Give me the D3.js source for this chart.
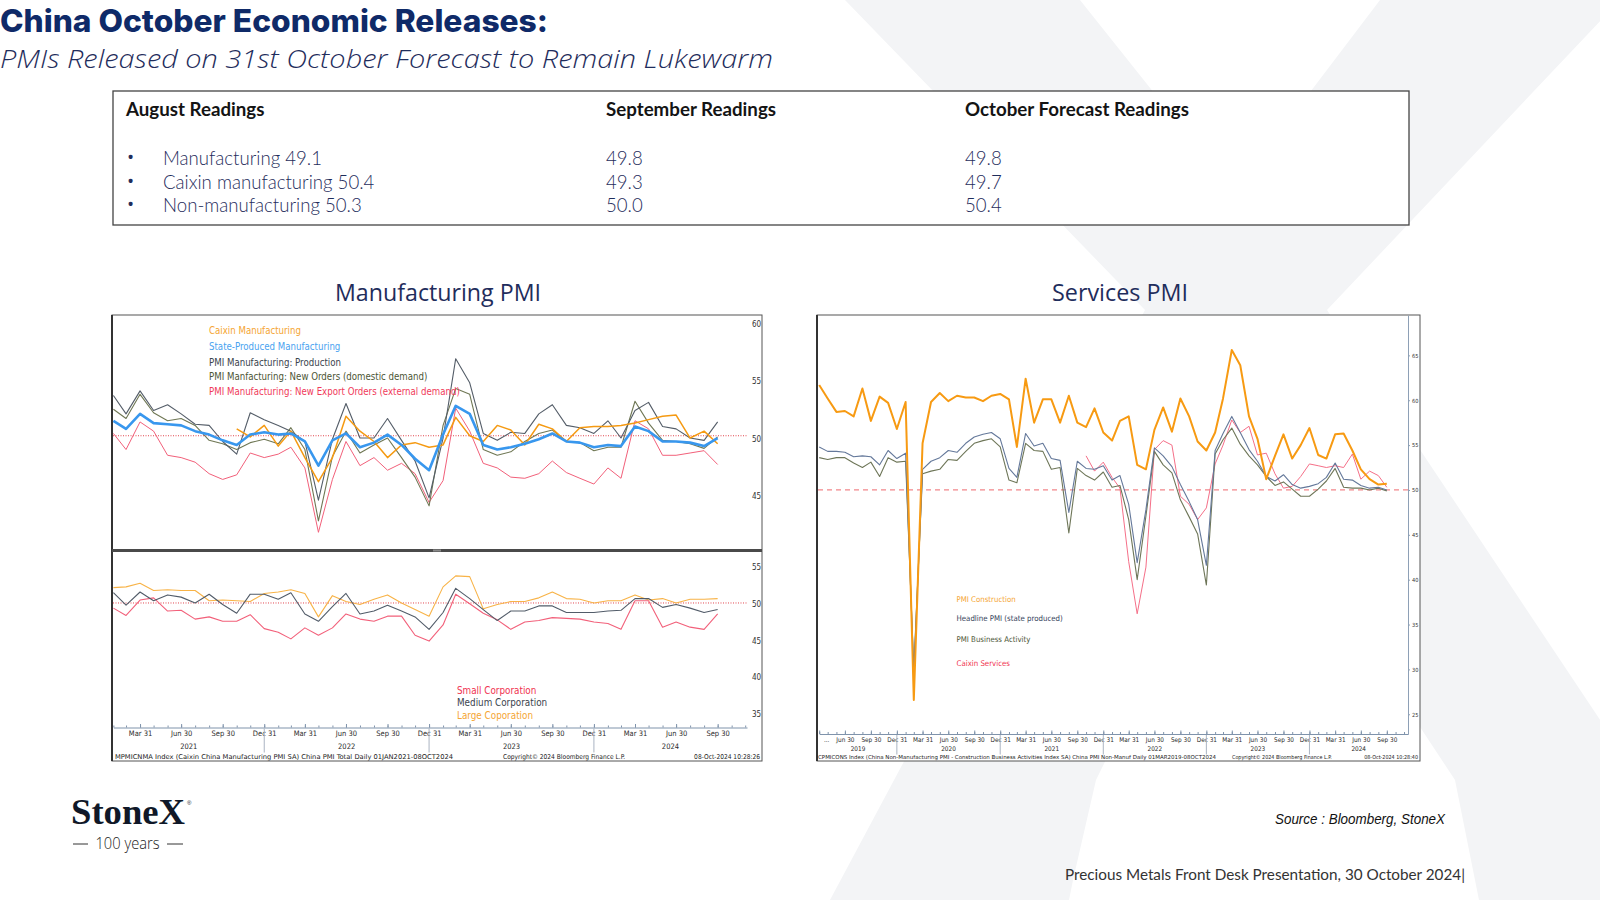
<!DOCTYPE html>
<html>
<head>
<meta charset="utf-8">
<script src="https://cdn.jsdelivr.net/npm/d3@7"></script>
<style>
  html, body { margin: 0; padding: 0; background: #fff; overflow: hidden; }
</style>
</head>
<body>
<svg id="slide" width="1600" height="900"></svg>
<script>
// ---------------- data ----------------
const tableHeads = ["August Readings", "September Readings", "October Forecast Readings"];
const augustRows = ["Manufacturing 49.1", "Caixin manufacturing 50.4", "Non-manufacturing 50.3"];
const septemberRows = ["49.8", "49.3", "50.0"];
const octoberRows = ["49.8", "49.7", "50.4"];

// Manufacturing PMI panel, monthly Jan 2021 - Sep 2024
const mfgStart = new Date(2021, 0, 1);
const mfgCaixin = Array(9).fill(null).concat([
  50.6, 49.9, 50.9,
  49.1, 50.4, 48.1, 46.0, 48.1, 51.7, 50.4, 49.5, 48.1, 49.2, 49.4, 49.0,
  49.2, 51.6, 50.0, 49.5, 50.9, 50.5, 49.2, 51.0, 50.6, 49.5, 50.7, 50.8,
  50.8, 50.9, 51.1, 51.4, 51.7, 51.8, 49.8, 50.4, 49.3]);
const mfgState = [
  51.3, 50.6, 51.9, 51.1, 51.0, 50.9, 50.4, 50.1, 49.6, 49.2, 50.1, 50.3,
  50.1, 50.2, 49.5, 47.4, 49.6, 50.2, 49.0, 49.4, 50.1, 49.2, 48.0, 47.0,
  50.1, 52.6, 51.9, 49.2, 48.8, 49.0, 49.3, 49.7, 50.2, 49.5, 49.4, 49.0,
  49.2, 49.1, 50.8, 50.4, 49.5, 49.5, 49.4, 49.1, 49.8];
const mfgProduction = [
  53.5, 51.9, 53.9, 52.2, 52.7, 51.9, 51.0, 50.9, 49.5, 48.4, 52.0, 51.4,
  50.9, 50.4, 49.5, 44.4, 49.7, 52.8, 49.8, 49.8, 51.5, 49.6, 47.8, 44.6,
  49.8, 56.7, 54.6, 50.2, 49.6, 50.3, 50.2, 51.9, 52.7, 50.9, 50.7, 50.2,
  51.3, 49.8, 52.2, 52.9, 50.8, 50.6, 49.8, 49.6, 51.2];
const mfgNewOrders = [
  52.3, 51.5, 53.6, 52.0, 51.3, 51.5, 50.9, 49.6, 49.3, 48.8, 49.4, 49.7,
  49.3, 50.7, 48.8, 42.6, 48.2, 50.4, 48.5, 49.2, 49.8, 48.1, 46.4, 43.9,
  50.9, 54.1, 53.6, 48.8, 48.3, 48.6, 49.5, 50.2, 50.5, 49.5, 49.4, 48.7,
  49.0, 49.0, 53.0, 51.1, 49.6, 49.5, 49.3, 48.9, 49.9];
const mfgExport = [
  50.2, 48.8, 51.2, 50.4, 48.3, 48.1, 47.7, 46.7, 46.2, 46.6, 48.5, 48.1,
  48.4, 49.0, 47.2, 41.6, 46.2, 49.5, 47.4, 48.1, 47.0, 47.6, 46.7, 44.2,
  46.1, 52.4, 50.4, 47.6, 47.2, 46.4, 46.3, 46.7, 47.8, 46.8, 46.3, 45.8,
  47.2, 46.3, 51.3, 50.6, 48.3, 48.3, 48.5, 48.7, 47.5];
const mfgSmall = [
  49.3, 48.3, 50.4, 50.7, 48.9, 49.0, 47.8, 48.1, 47.5, 47.5, 48.4, 46.5,
  46.0, 45.1, 46.6, 45.6, 46.6, 48.5, 47.8, 47.5, 48.2, 48.2, 45.6, 44.8,
  47.0, 51.2, 49.9, 48.6, 47.7, 46.4, 47.4, 47.6, 48.0, 47.9, 47.8, 47.4,
  47.2, 46.4, 50.3, 50.3, 46.7, 47.4, 46.7, 46.4, 48.5];
const mfgMedium = [
  51.4, 49.7, 51.5, 50.3, 51.1, 50.8, 50.0, 51.2, 49.8, 48.6, 51.2, 51.2,
  50.5, 51.4, 48.5, 47.5, 49.5, 51.3, 48.5, 48.9, 49.7, 48.9, 48.1, 46.4,
  48.7, 52.0, 50.6, 49.1, 47.6, 48.9, 48.9, 49.6, 49.6, 48.7, 48.7, 48.7,
  48.9, 49.0, 50.6, 50.6, 49.4, 49.8, 49.3, 48.7, 49.1];
const mfgLarge = [
  52.1, 52.2, 52.7, 51.7, 51.8, 51.7, 51.7, 50.3, 50.4, 50.3, 50.2, 51.3,
  51.5, 51.8, 51.3, 48.1, 51.0, 50.2, 49.8, 50.5, 51.1, 50.0, 49.1, 48.2,
  52.2, 53.7, 53.6, 49.2, 49.8, 50.2, 50.2, 50.7, 51.5, 50.6, 50.5, 50.0,
  50.3, 50.3, 51.1, 50.4, 50.6, 50.0, 50.5, 50.5, 50.6];

// Services PMI panel, monthly Mar 2019 - Sep 2024
const svcStart = new Date(2019, 2, 1);
const svcConstruction = [
  61.7, 60.2, 58.7, 58.8, 58.2, 61.3, 57.7, 60.4, 59.7, 56.8,
  59.8, 26.6, 55.2, 59.8, 60.8, 59.9, 60.5, 60.3, 60.3, 59.9, 60.5, 60.7,
  60.1, 54.8, 62.4, 57.5, 60.1, 60.1, 57.5, 60.5, 57.5, 57.0, 59.1, 56.4,
  55.5, 57.7, 58.2, 52.8, 52.3, 56.7, 59.2, 56.5, 60.2, 58.2, 55.4, 54.4,
  56.4, 60.2, 65.6, 63.9, 58.2, 55.7, 51.2, 53.8, 56.2, 53.5, 55.0, 56.9,
  53.9, 53.5, 56.2, 56.3, 54.4, 52.3, 51.2, 50.6, 50.7];
const svcHeadline = [
  54.8, 54.3, 54.3, 54.2, 53.7, 53.8, 53.7, 52.8, 54.4, 53.5,
  54.1, 29.6, 52.3, 53.2, 53.6, 54.4, 54.2, 55.2, 55.9, 56.2, 56.4, 55.7,
  52.4, 51.4, 56.3, 54.9, 55.2, 53.5, 53.3, 47.5, 53.2, 52.4, 52.3, 52.7,
  51.1, 51.6, 48.4, 41.9, 47.8, 54.7, 53.8, 52.6, 50.6, 48.7, 46.7, 41.6,
  54.4, 56.3, 58.2, 56.4, 54.5, 53.2, 51.5, 51.0, 51.7, 50.6, 50.2, 50.4,
  50.7, 51.4, 53.0, 51.2, 51.1, 50.5, 50.2, 50.3, 50.0];
const svcBusiness = [
  53.6, 53.4, 53.6, 53.6, 53.0, 52.5, 53.1, 51.5, 53.6, 53.1,
  53.2, 30.1, 51.8, 52.1, 52.3, 53.4, 53.3, 54.3, 55.2, 55.5, 55.7, 54.8,
  51.1, 50.8, 55.2, 54.4, 54.3, 52.3, 52.5, 45.2, 52.4, 51.6, 51.1, 52.0,
  50.3, 50.5, 46.7, 40.0, 47.1, 54.3, 52.8, 51.9, 48.9, 47.0, 45.1, 39.4,
  54.0, 55.6, 56.9, 55.1, 53.8, 52.8, 51.5, 50.5, 50.9, 50.1, 49.3, 49.3,
  50.1, 51.0, 52.4, 50.3, 50.2, 50.2, 50.0, 50.2, 49.9];
const svcCaixin = Array(31).fill(null).concat([
  53.8, 52.1, 53.1,
  51.4, 50.2, 42.0, 36.2, 41.4, 54.5, 55.5, 55.0, 49.3, 48.4, 46.7, 48.0,
  52.9, 55.0, 57.8, 56.4, 57.1, 53.9, 54.1, 51.8, 50.2, 50.4, 51.5, 52.9,
  52.7, 52.5, 52.7, 52.5, 54.0, 51.2, 52.1, 51.6, 50.3]);

const mfgTopTicks = [60, 55, 50, 45];
const mfgBottomTicks = [55, 50, 45, 40, 35];
const svcTicks = [65, 60, 55, 50, 45, 40, 35, 30, 25];

// ---------------- helpers ----------------
const svg = d3.select("#slide");
const bbFont = "'DejaVu Sans Condensed','Liberation Sans Narrow','DejaVu Sans',sans-serif";
const navy = "#1f2d5c";

function monthEnd(start, i) {
  return d3.timeDay.offset(d3.timeMonth.offset(start, i + 1), -1);
}

function condense(sel, k) {
  sel.each(function () {
    const w = this.getComputedTextLength();
    d3.select(this).attr("textLength", w * k).attr("lengthAdjust", "spacingAndGlyphs");
  });
}

function drawSeries(g, x, y, start, values, color, width) {
  const pts = values.map((v, i) => ({ d: monthEnd(start, i), v: v }));
  g.append("path")
    .datum(pts)
    .attr("fill", "none")
    .attr("stroke", color)
    .attr("stroke-width", width)
    .attr("stroke-linejoin", "round")
    .attr("d", d3.line().defined(p => p.v != null).x(p => x(p.d)).y(p => y(p.v)));
}

function timeAxis(x, axisY, fs, yearGap, firstLabel) {
  const [d0, d1] = x.domain();
  const months = d3.timeMonth.range(d3.timeMonth.ceil(d0), d1)
    .map(m => d3.timeDay.offset(m, -1))
    .filter(d => d >= d0);
  const quarters = months.filter(d => d.getMonth() % 3 === 2);

  const g = svg.append("g").attr("transform", `translate(0,${axisY})`);
  g.append("g")
    .call(d3.axisBottom(x).tickValues(months).tickSizeInner(-2).tickSizeOuter(0).tickFormat(""))
    .call(a => a.select(".domain").attr("stroke", "#7f93ab"))
    .call(a => a.selectAll(".tick line").attr("stroke", "#7f93ab"));

  const fmt = d3.timeFormat("%b %d");
  g.append("g")
    .call(d3.axisBottom(x).tickValues(quarters).tickSizeInner(-3.5).tickSizeOuter(0)
      .tickPadding(3.2).tickFormat((d, i) => (i === 0 && firstLabel) ? firstLabel : fmt(d)))
    .call(a => a.select(".domain").remove())
    .call(a => a.selectAll(".tick line").attr("stroke", "#7f93ab"))
    .call(a => a.selectAll(".tick text")
      .attr("fill", "#2b2b2b")
      .attr("font-family", bbFont)
      .attr("font-size", fs)
      .attr("dx", (d, i) => (i === 0 && firstLabel) ? 7 : 0));

  // year separators and labels
  months.filter(d => d.getMonth() === 11).forEach(d => {
    g.append("line")
      .attr("x1", x(d)).attr("x2", x(d))
      .attr("y1", 1).attr("y2", yearGap + 4)
      .attr("stroke", "#aab4c2").attr("stroke-width", 1);
  });
  const [r0, r1] = x.range();
  for (let yr = d0.getFullYear(); yr <= d1.getFullYear(); yr++) {
    const a = Math.max(r0, x(new Date(yr - 1, 11, 31)));
    const b = Math.min(r1, x(new Date(yr, 11, 31)));
    if (b - a < 20) continue;
    g.append("text")
      .attr("x", (a + b) / 2).attr("y", yearGap)
      .attr("text-anchor", "middle")
      .attr("font-family", bbFont).attr("font-size", fs)
      .attr("fill", "#2b2b2b")
      .text(yr);
  }
}

function legend(x, entries, fs) {
  entries.forEach(e => {
    svg.append("text")
      .attr("x", x).attr("y", e.y)
      .attr("dominant-baseline", "central")
      .attr("font-family", bbFont).attr("font-size", fs)
      .attr("fill", e.color)
      .text(e.label);
  });
}

function yLabels(scale, ticks, xPos, fs, withLine, dy) {
  const g = svg.append("g").attr("transform", `translate(${xPos},0)`);
  g.call(d3.axisRight(scale).tickValues(ticks).tickSizeInner(withLine ? 2 : 0).tickSizeOuter(0).tickPadding(withLine ? 2 : 3))
    .call(a => withLine ? a.select(".domain").attr("stroke", "#8ea0b6") : a.select(".domain").remove())
    .call(a => a.selectAll(".tick line").attr("stroke", "#8ea0b6"))
    .call(a => a.selectAll(".tick text")
      .attr("fill", "#333")
      .attr("font-family", bbFont)
      .attr("font-size", fs)
      .attr("y", dy || 0));
}

// ---------------- watermark ----------------
const wm = "#f3f4f6";
svg.append("path").attr("fill", wm)
  .attr("d", "M845,0 L1080,0 L1327,310 L1720,900 L1479,900 L1475,880 L1455,780 L1145,310 Z");
svg.append("path").attr("fill", wm)
  .attr("d", "M1380,0 L1620,0 L1327,310 L1096,780 L1073,880 L1069,900 L830,900 L1145,310 Z");

// ---------------- titles ----------------
svg.append("text")
  .attr("x", 0).attr("y", 31.5)
  .attr("font-family", "Inter, 'Noto Sans', sans-serif")
  .attr("font-weight", 800).attr("font-size", 31)
  .attr("fill", "#0f2a68")
  .attr("textLength", 548).attr("lengthAdjust", "spacingAndGlyphs")
  .text("China October Economic Releases:");

svg.append("text")
  .attr("x", 0).attr("y", 67.5)
  .attr("font-family", "'Open Sans', sans-serif")
  .attr("font-style", "italic").attr("font-weight", 300).attr("font-size", 26.5)
  .attr("fill", navy)
  .attr("textLength", 773).attr("lengthAdjust", "spacingAndGlyphs")
  .text("PMIs Released on 31st October Forecast to Remain Lukewarm");

// ---------------- readings table ----------------
svg.append("rect")
  .attr("x", 113).attr("y", 91).attr("width", 1296).attr("height", 134)
  .attr("fill", "#fff").attr("stroke", "#444").attr("stroke-width", 1.3);

const colX = [126, 606, 965];
const rowY = [165, 188.5, 212];
svg.selectAll("text.head")
  .data(tableHeads).join("text")
  .attr("class", "head")
  .attr("x", (d, i) => colX[i]).attr("y", 116)
  .attr("font-family", "Lato, 'Open Sans', sans-serif")
  .attr("font-weight", 700).attr("font-size", 19.5)
  .attr("fill", "#141414")
  .text(d => d)
  .call(condense, 0.96);

augustRows.forEach((t, i) => {
  svg.append("text").attr("x", 127).attr("y", rowY[i] - 1)
    .attr("font-family", "'Open Sans', sans-serif").attr("font-size", 19)
    .attr("fill", navy).text("\u2022");
});
const bodyFont = "Lato, 'Open Sans', sans-serif";
[[augustRows, 163], [septemberRows, colX[1]], [octoberRows, colX[2]]].forEach(([rows, x]) => {
  svg.selectAll(null).data(rows).join("text")
    .attr("x", x).attr("y", (d, i) => rowY[i])
    .attr("font-family", bodyFont).attr("font-weight", 300).attr("font-size", 19.5)
    .attr("fill", navy)
    .text(d => d)
    .call(condense, 0.955);
});

// ---------------- chart titles ----------------
svg.append("text")
  .attr("x", 335).attr("y", 301)
  .attr("font-family", "'Open Sans', sans-serif").attr("font-size", 23)
  .attr("fill", navy)
  .attr("textLength", 206).attr("lengthAdjust", "spacingAndGlyphs")
  .text("Manufacturing PMI");
svg.append("text")
  .attr("x", 1052).attr("y", 301)
  .attr("font-family", "'Open Sans', sans-serif").attr("font-size", 23)
  .attr("fill", navy)
  .attr("textLength", 136).attr("lengthAdjust", "spacingAndGlyphs")
  .text("Services PMI");

// ---------------- manufacturing chart ----------------
svg.append("rect")
  .attr("x", 112).attr("y", 315).attr("width", 650).attr("height", 446)
  .attr("fill", "#fff").attr("stroke", "#555").attr("stroke-width", 1);
svg.append("line").attr("x1", 112).attr("x2", 112).attr("y1", 315).attr("y2", 761)
  .attr("stroke", "#333").attr("stroke-width", 2);

const mX = d3.scaleTime()
  .domain([new Date(2021, 0, 31), new Date(2024, 11, 4)])
  .range([113.4, 747]);
const mTopY = d3.scaleLinear().domain([40.15, 60.5]).range([549, 315]);
const mBotY = d3.scaleLinear().domain([33.0, 56.96]).range([727.5, 552]);

// divider between panels
svg.append("rect").attr("x", 112).attr("y", 549).attr("width", 650).attr("height", 3).attr("fill", "#4a4a4a");
svg.append("rect").attr("x", 433).attr("y", 549.5).attr("width", 8).attr("height", 2).attr("fill", "#8a8a8a");

// 50 reference lines
[[mTopY], [mBotY]].forEach(([s]) => {
  svg.append("line")
    .attr("x1", 113).attr("x2", 747).attr("y1", s(50)).attr("y2", s(50))
    .attr("stroke", "#e2474f").attr("stroke-width", 1).attr("stroke-dasharray", "1,1.5");
});

const mTop = svg.append("g");
drawSeries(mTop, mX, mTopY, mfgStart, mfgExport, "#f2607a", 1);
drawSeries(mTop, mX, mTopY, mfgStart, mfgNewOrders, "#6f7754", 1.1);
drawSeries(mTop, mX, mTopY, mfgStart, mfgProduction, "#545d68", 1.1);
drawSeries(mTop, mX, mTopY, mfgStart, mfgCaixin, "#f59a12", 1.5);
drawSeries(mTop, mX, mTopY, mfgStart, mfgState, "#3897ee", 2.6);

const mBot = svg.append("g");
drawSeries(mBot, mX, mBotY, mfgStart, mfgLarge, "#f8b347", 1.1);
drawSeries(mBot, mX, mBotY, mfgStart, mfgSmall, "#f2607a", 1.1);
drawSeries(mBot, mX, mBotY, mfgStart, mfgMedium, "#525c69", 1.1);

yLabels(mTopY, mfgTopTicks, 749, 8, false, 3);
yLabels(mBotY, mfgBottomTicks, 749, 8, false, 1);

legend(209, [
  { label: "Caixin Manufacturing", color: "#f5a533", y: 330.6 },
  { label: "State-Produced Manufacturing", color: "#4aa3f0", y: 346 },
  { label: "PMI Manufacturing: Production", color: "#3a434d", y: 362 },
  { label: "PMI Manfacturing: New Orders (domestic demand)", color: "#4c5535", y: 376.5 },
  { label: "PMI Manufacturing: New Export Orders (external demand)", color: "#f03a5a", y: 391 }
], 9.6);
legend(457, [
  { label: "Small Corporation", color: "#f0324f", y: 690 },
  { label: "Medium Corporation", color: "#3a434d", y: 702.5 },
  { label: "Large Coporation", color: "#f5a533", y: 715.5 }
], 9.8);

timeAxis(mX, 727.5, 7.5, 21, null);

svg.append("text").attr("x", 115).attr("y", 758.5)
  .attr("font-family", bbFont).attr("font-size", 6.6).attr("fill", "#222")
  .attr("textLength", 338).attr("lengthAdjust", "spacingAndGlyphs")
  .text("MPMICNMA Index (Caixin China Manufacturing PMI SA) China PMI Total  Daily 01JAN2021-08OCT2024");
svg.append("text").attr("x", 503).attr("y", 758.5)
  .attr("font-family", bbFont).attr("font-size", 6.6).attr("fill", "#222")
  .text("Copyright\u00a9 2024 Bloomberg Finance L.P.");
svg.append("text").attr("x", 760).attr("y", 758.5).attr("text-anchor", "end")
  .attr("font-family", bbFont).attr("font-size", 6.6).attr("fill", "#222")
  .text("08-Oct-2024 10:28:26");

// ---------------- services chart ----------------
svg.append("rect")
  .attr("x", 817).attr("y", 315).attr("width", 603).attr("height", 446)
  .attr("fill", "#fff").attr("stroke", "#555").attr("stroke-width", 1);
svg.append("line").attr("x1", 817).attr("x2", 817).attr("y1", 315).attr("y2", 761)
  .attr("stroke", "#333").attr("stroke-width", 2);

const sX = d3.scaleTime()
  .domain([new Date(2019, 2, 31), new Date(2024, 11, 14)])
  .range([819.2, 1408]);
const sY = d3.scaleLinear().domain([22.8, 69.5]).range([734, 315]);

svg.append("line")
  .attr("x1", 818).attr("x2", 1408).attr("y1", sY(50)).attr("y2", sY(50))
  .attr("stroke", "#f2868a").attr("stroke-width", 1.3).attr("stroke-dasharray", "5,4");

const sG = svg.append("g");
drawSeries(sG, sX, sY, svcStart, svcCaixin, "#f56f88", 1);
drawSeries(sG, sX, sY, svcStart, svcBusiness, "#6e7658", 1.1);
drawSeries(sG, sX, sY, svcStart, svcHeadline, "#64789a", 1.1);
drawSeries(sG, sX, sY, svcStart, svcConstruction, "#f79a12", 2);

yLabels(sY, svcTicks, 1408, 5.6, true, 0);

legend(956.5, [
  { label: "PMI Construction", color: "#f5a533", y: 599.5 },
  { label: "Headline PMI (state produced)", color: "#34425a", y: 618.5 },
  { label: "PMI Business Activity", color: "#4c5535", y: 639 },
  { label: "Caixin Services", color: "#f0324f", y: 663.3 }
], 7.8);

timeAxis(sX, 734, 6.4, 16.5, "...");

svg.append("text").attr("x", 818).attr("y", 758.5)
  .attr("font-family", bbFont).attr("font-size", 5.4).attr("fill", "#222")
  .attr("textLength", 398).attr("lengthAdjust", "spacingAndGlyphs")
  .text("CPMICONS Index (China Non-Manufacturing PMI - Construction Business Activities Index SA) China PMI Non-Manuf  Daily 01MAR2019-08OCT2024");
svg.append("text").attr("x", 1232).attr("y", 758.5)
  .attr("font-family", bbFont).attr("font-size", 5.4).attr("fill", "#222")
  .text("Copyright\u00a9 2024 Bloomberg Finance L.P.");
svg.append("text").attr("x", 1418).attr("y", 758.5).attr("text-anchor", "end")
  .attr("font-family", bbFont).attr("font-size", 5.4).attr("fill", "#222")
  .text("08-Oct-2024 10:28:40");

// ---------------- logo & footer ----------------
svg.append("text")
  .attr("x", 71).attr("y", 824)
  .attr("font-family", "'Liberation Serif', 'DejaVu Serif', serif")
  .attr("font-weight", 700).attr("font-size", 36)
  .attr("fill", "#101828")
  .attr("textLength", 114).attr("lengthAdjust", "spacingAndGlyphs")
  .text("StoneX");
svg.append("text")
  .attr("x", 187).attr("y", 805)
  .attr("font-family", "'Liberation Sans', sans-serif").attr("font-size", 6)
  .attr("fill", "#101828").text("\u00ae");
svg.append("line").attr("x1", 73).attr("x2", 88).attr("y1", 844).attr("y2", 844)
  .attr("stroke", "#333").attr("stroke-width", 1);
svg.append("line").attr("x1", 167).attr("x2", 183).attr("y1", 844).attr("y2", 844)
  .attr("stroke", "#333").attr("stroke-width", 1);
svg.append("text")
  .attr("x", 127.5).attr("y", 849).attr("text-anchor", "middle")
  .attr("font-family", "'Open Sans', sans-serif").attr("font-weight", 300).attr("font-size", 16)
  .attr("fill", "#222")
  .attr("textLength", 64).attr("lengthAdjust", "spacingAndGlyphs")
  .text("100 years");

svg.append("text")
  .attr("x", 1445).attr("y", 824).attr("text-anchor", "end")
  .attr("font-family", "'Liberation Sans', Arial, sans-serif")
  .attr("font-style", "italic").attr("font-size", 14)
  .attr("fill", "#111")
  .attr("textLength", 170).attr("lengthAdjust", "spacingAndGlyphs")
  .text("Source : Bloomberg, StoneX");

svg.append("text")
  .attr("x", 1065).attr("y", 880)
  .attr("font-family", "Lato, 'Open Sans', sans-serif").attr("font-size", 16)
  .attr("fill", "#333")
  .attr("textLength", 400).attr("lengthAdjust", "spacingAndGlyphs")
  .text("Precious Metals Front Desk Presentation, 30 October 2024|");
</script>
</body>
</html>
